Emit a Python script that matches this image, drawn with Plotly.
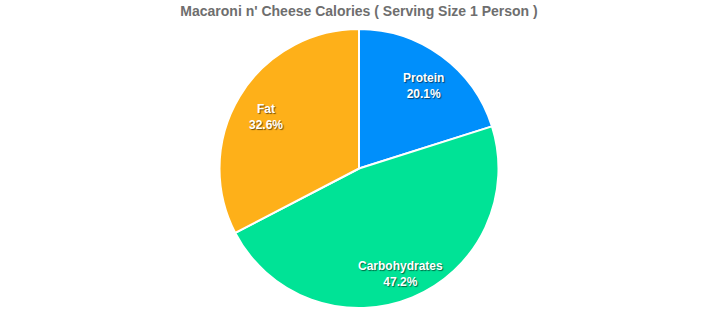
import math
import plotly.graph_objects as go

labels = ["Protein", "Carbohydrates", "Fat"]
values = [20.1, 47.2, 32.6]
colors = ["#008FFB", "#00E396", "#FEB019"]

W, H = 718, 323
M = dict(l=0, r=0, t=29, b=15)

fig = go.Figure(go.Pie(
    labels=labels,
    values=values,
    sort=False,
    direction="clockwise",
    rotation=0,
    marker=dict(colors=colors, line=dict(color="white", width=2)),
    textinfo="none",
    hoverinfo="label+percent",
    showlegend=False,
))

# data labels placed along each slice bisector (ApexCharts style)
plot_w = W - M["l"] - M["r"]
plot_h = H - M["t"] - M["b"]
radius = min(plot_w, plot_h) / 2
label_r = 0.78 * radius
total = sum(values)
cum = 0.0
annotations = []
for lab, v in zip(labels, values):
    mid = (cum + v / 2) / total * 2 * math.pi
    cum += v
    dx = label_r * math.sin(mid)
    dy = label_r * math.cos(mid)
    annotations.append(dict(
        x=0.5 + dx / plot_w, y=0.5 + dy / plot_h, xref="paper", yref="paper",
        xanchor="center", yanchor="middle", showarrow=False, yshift=-5,
        text=f"<b>{lab}</b><br><b>{v / total * 100:.1f}%</b>",
        font=dict(family="Arial, Helvetica, sans-serif", size=12, color="white",
                  shadow="1px 1px 1px rgba(0,0,0,0.55)"),
    ))

fig.update_layout(
    width=W, height=H,
    margin=M,
    paper_bgcolor="white",
    annotations=annotations,
    title=dict(text="<b>Macaroni n' Cheese Calories ( Serving Size 1 Person )</b>",
               x=0.5, xanchor="center", y=0.965, yanchor="middle", yref="container",
               font=dict(family="Arial, Helvetica, sans-serif", size=14, color="#6e6e6e")),
)

fig.write_html("out.html")
